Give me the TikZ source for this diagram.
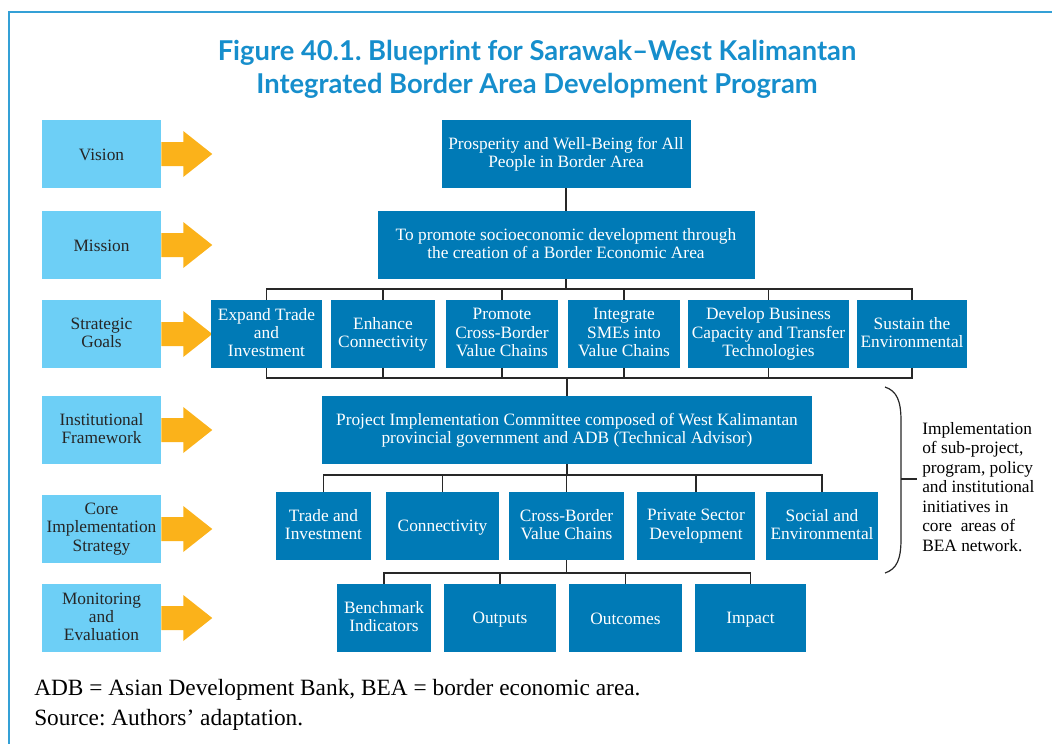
\documentclass[tikz,border=0pt]{standalone}
\usepackage{fontspec}
\setmainfont{Liberation Serif}
\newfontfamily\titlefont{Lato}
\frenchspacing
\definecolor{framecol}{RGB}{52,160,214}
\definecolor{titlecol}{RGB}{22,142,204}
\definecolor{lightbox}{RGB}{109,207,246}
\definecolor{darkbox}{RGB}{0,122,182}
\definecolor{arrowcol}{RGB}{251,178,26}
\definecolor{wirecol}{RGB}{40,40,40}
\newcommand\boxstrut{\rule[-2.2pt]{0pt}{13.7pt}}
\tikzset{
  wire/.style      = {line width=0.9pt, draw=wirecol},
  frame/.style     = {line width=1.1pt, draw=framecol},
  levelbox/.style  = {fill=lightbox, text=black!85, align=center, inner sep=1pt,
                      font=\fontsize{13}{13.7}\selectfont,
                      execute at begin node=\boxstrut, execute at end node=\boxstrut,
                      minimum width=89.25pt, minimum height=51pt},
  bluebox/.style   = {fill=darkbox, text=white, align=center, inner sep=1pt,
                      font=\fontsize{13}{13.7}\selectfont,
                      execute at begin node=\boxstrut, execute at end node=\boxstrut,
                      minimum height=51pt},
  bw/.style        = {minimum width=#1*0.75pt},
  levelarrow/.style= {fill=arrowcol},
  titletext/.style = {font=\titlefont\bfseries\fontsize{20.5}{24.75}\selectfont,
                      text=titlecol, align=center},
  notetext/.style  = {font=\fontsize{17.5}{20}\selectfont, anchor=west, inner sep=0pt},
}

\begin{document}
\begin{tikzpicture}[x=0.75pt,y=-0.75pt]
  \useasboundingbox (0,0) rectangle (1052,744);
  \draw[frame] (1052,12) -- (9,12) -- (9,744);

  \node[titletext] (title) at (537,69.5)
    {Figure 40.1. Blueprint for Sarawak\textendash West Kalimantan\\Integrated Border Area Development Program};

  % level labels on the left
  \node[levelbox] (vis) at (101.5,154) {Vision};
  \node[levelbox] (mis) at (101.5,245) {Mission};
  \node[levelbox] (goa) at (101.5,334) {Strategic\\Goals};
  \node[levelbox] (ins) at (101.5,430) {Institutional\\Framework};
  \node[levelbox] (cor) at (101.5,529) {Core\\Implementation\\Strategy};
  \node[levelbox] (mon) at (101.5,618) {Monitoring\\and\\Evaluation};
  \foreach \n in {vis,mis,goa,ins,cor,mon}
    \fill[levelarrow,shift={(\n.east)}] (0,-12) -- (22,-12) -- (22,-23) -- (51,0)
      -- (22,23) -- (22,12) -- (0,12) -- cycle;

  % vision and mission
  \node[bluebox,bw=249] (pros) at (566,154) {Prosperity and Well-Being for All\\People in Border Area};
  \node[bluebox,bw=377] (prom) at (566,245) {To promote socioeconomic development through\\the creation of a Border Economic Area};

  % strategic goals
  \node[bluebox,bw=111] (g1) at (266.5,334) {Expand Trade\\and\\Investment};
  \node[bluebox,bw=104] (g2) at (383,334) {Enhance\\Connectivity};
  \node[bluebox,bw=112] (g3) at (502,334) {Promote\\Cross-Border\\Value Chains};
  \node[bluebox,bw=112] (g4) at (624,334) {Integrate\\SMEs into\\Value Chains};
  \node[bluebox,bw=161] (g5) at (768.5,334) {Develop Business\\Capacity and Transfer\\Technologies};
  \node[bluebox,bw=110] (g6) at (912,334) {Sustain the\\Environmental};

  % institutional framework
  \node[bluebox,bw=490] (pic) at (567,430) {Project Implementation Committee composed of West Kalimantan\\provincial government and ADB (Technical Advisor)};

  % core implementation strategy
  \node[bluebox,bw=95]  (c1) at (323.5,526) {Trade and\\Investment};
  \node[bluebox,bw=113] (c2) at (442.5,526) {Connectivity};
  \node[bluebox,bw=115] (c3) at (566.5,526) {Cross-Border\\Value Chains};
  \node[bluebox,bw=118] (c4) at (696,526) {Private Sector\\Development};
  \node[bluebox,bw=112] (c5) at (822,526) {Social and\\Environmental};

  % monitoring and evaluation
  \node[bluebox,bw=94]  (m1) at (384,618) {Benchmark\\Indicators};
  \node[bluebox,bw=112] (m2) at (500,618) {Outputs};
  \node[bluebox,bw=113] (m3) at (625.5,618) {Outcomes};
  \node[bluebox,bw=111] (m4) at (750.5,618) {Impact};

  % connectors
  \coordinate (tbus) at (566,289);
  \coordinate (bbus) at (567,378);
  \coordinate (cbus) at (567,475);
  \coordinate (mbus) at (566.5,573);
  \draw[wire] (pros.south) -- (prom.north);
  \draw[wire] (prom.south) -- (tbus);
  \draw[wire] (g1.north) |- (tbus) -| (g6.north);
  \draw[wire] (g1.south) |- (bbus) -| (g6.south);
  \foreach \g in {g2,g3,g4,g5} {
    \draw[wire] (\g.north) -- (\g.north |- tbus);
    \draw[wire] (\g.south) -- (\g.south |- bbus);
  }
  \draw[wire] (bbus) -- (pic.north);
  \draw[wire] (pic.south) -- (cbus);
  \draw[wire] (c1.north) |- (cbus) -| (c5.north);
  \foreach \c in {c2,c3,c4}
    \draw[wire] (\c.north) -- (\c.north |- cbus);
  \draw[wire] (c3.south) -- (mbus);
  \draw[wire] (m1.north) |- (mbus) -| (m4.north);
  \foreach \m in {m2,m3}
    \draw[wire] (\m.north) -- (\m.north |- mbus);

  % brace and its note
  \draw[wire] (885,387) .. controls (897,391) and (901,401) .. (901,421) -- (901,539)
    .. controls (901,559) and (897,569) .. (885,573);
  \draw[wire] (901,479) -- (917,479);
  \node[anchor=west, align=left, inner sep=0pt, font=\fontsize{13}{14.6}\selectfont] (impl) at (922,487)
    {Implementation\\of sub-project,\\program, policy\\and institutional\\initiatives in\\core\ \ areas of\\BEA network.};

  % notes
  \node[notetext] (note1) at (34,690) {ADB = Asian Development Bank, BEA = border economic area.};
  \node[notetext] (note2) at (34,720) {Source: Authors' adaptation.};
\end{tikzpicture}
\end{document}
